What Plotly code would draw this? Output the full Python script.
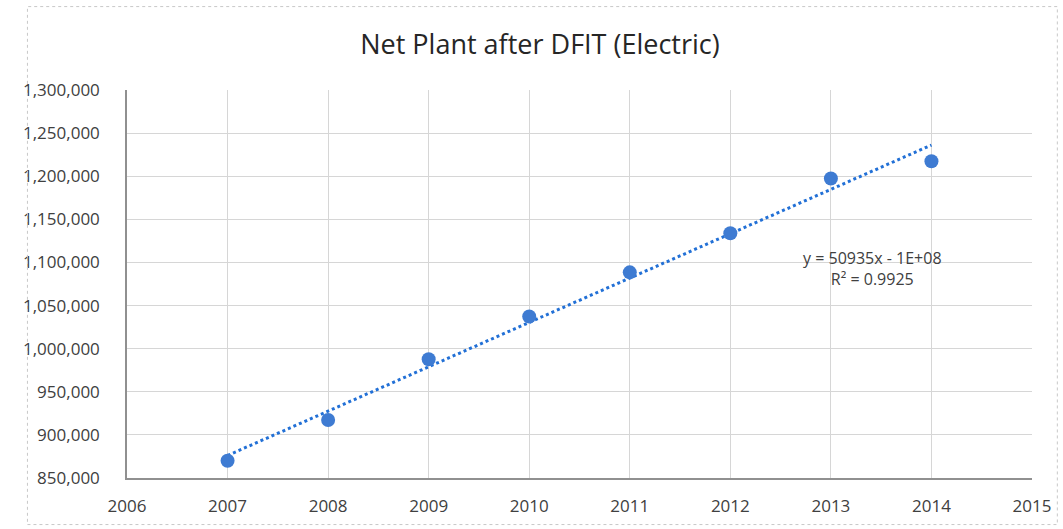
import numpy as np
import plotly.graph_objects as go

years = [2007, 2008, 2009, 2010, 2011, 2012, 2013, 2014]
net_plant = [870000, 917300, 987700, 1037300, 1088500, 1133800, 1197300, 1217300]
y_ticks = [850000, 900000, 950000, 1000000, 1050000, 1100000, 1150000, 1200000, 1250000, 1300000]
x_ticks = [2006, 2007, 2008, 2009, 2010, 2011, 2012, 2013, 2014, 2015]
title = "Net Plant after DFIT (Electric)"
eq_text = "y = 50935x - 1E+08<br>R² = 0.9925"

slope, intercept = np.polyfit(years, net_plant, 1)
trend_x = [years[0], years[-1]]
trend_y = [slope * x + intercept for x in trend_x]

font = "Open Sans, Liberation Sans, sans-serif"

fig = go.Figure()
fig.add_trace(go.Scatter(x=trend_x, y=trend_y, mode="lines",
                         line=dict(color="#2270D6", width=3, dash="dot"),
                         hoverinfo="skip", showlegend=False))
fig.add_trace(go.Scatter(x=years, y=net_plant, mode="markers",
                         marker=dict(color="#3E7BD2", size=14),
                         showlegend=False))

fig.add_annotation(x=2013.41, y=1093500, xref="x", yref="y", text=eq_text,
                   showarrow=False, align="center",
                   font=dict(family=font, size=16, color="#404040"))

fig.update_layout(
    width=1063, height=529,
    margin=dict(l=127, r=31, t=90, b=49),
    paper_bgcolor="white", plot_bgcolor="white",
    title=dict(text=title, x=0.508, xanchor="center", y=0.915, yanchor="middle",
               font=dict(family=font, size=27, color="#262626")),
    font=dict(family=font, size=15, color="#404040"),
    xaxis=dict(range=[2006, 2015], tickvals=x_ticks, ticktext=[str(v) for v in x_ticks],
               showgrid=True, gridcolor="#D6D6D6", gridwidth=1,
               showline=True, linecolor="#909090", linewidth=1.5,
               zeroline=False, ticks="", ticklabelstandoff=12,
               tickfont=dict(family=font, size=17, color="#404040")),
    yaxis=dict(range=[850000, 1300000], tickvals=y_ticks,
               ticktext=[f"{v:,}" for v in y_ticks],
               showgrid=True, gridcolor="#D6D6D6", gridwidth=1,
               showline=True, linecolor="#909090", linewidth=1.5,
               zeroline=False, ticks="", ticklabelstandoff=22,
               tickfont=dict(family=font, size=17, color="#404040")),
    shapes=[dict(type="rect", xref="paper", yref="paper", x0=-0.11, x1=1.028, y0=-0.12, y1=1.215,
                 line=dict(color="#C8C8C8", width=1, dash="dot"))],
)

fig.write_html("out.html")
